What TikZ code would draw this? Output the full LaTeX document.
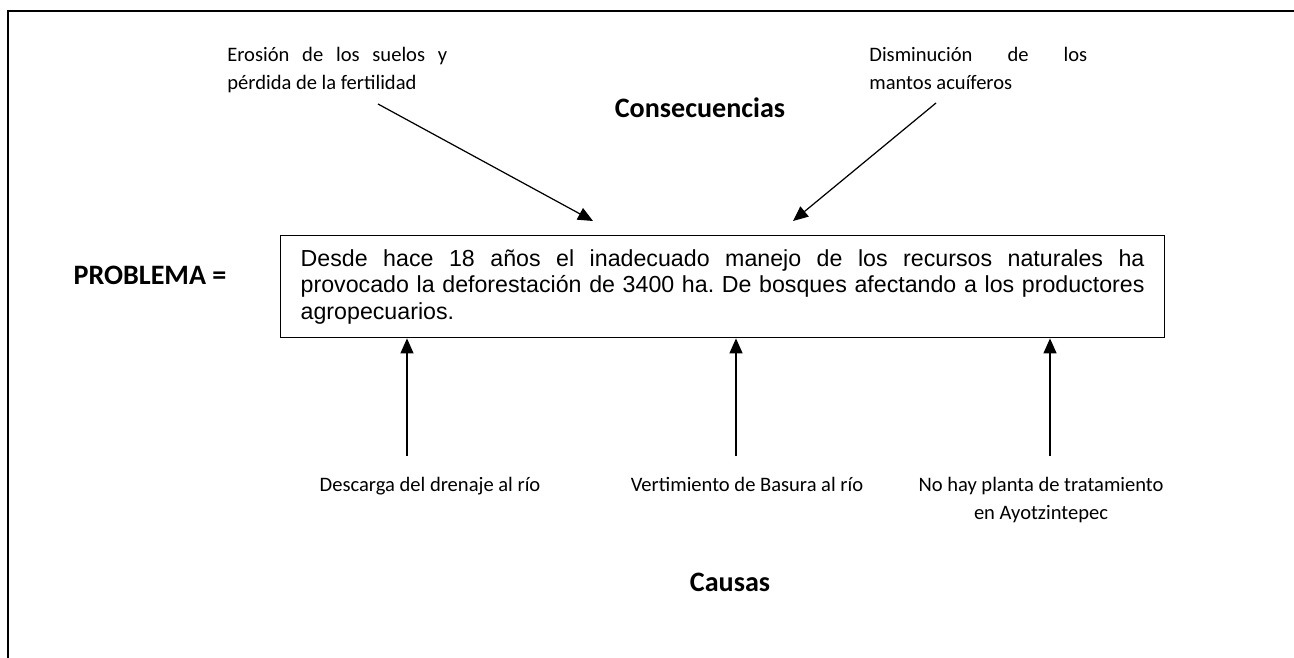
\documentclass[tikz,border=0pt]{standalone}
\usepackage{fontspec}
\setmainfont{Carlito}
\newfontfamily\arialfont{Liberation Sans}
\usetikzlibrary{arrows.meta}
\tikzstyle{nota} = [font=\fontsize{11.7}{15.9}\selectfont, inner sep=0pt]
\tikzstyle{titulo} = [font=\fontsize{16}{19}\selectfont\bfseries, inner sep=0pt]
\tikzstyle{caja} = [rectangle, draw=black, line width=0.8pt, text width=16.88cm, minimum height=2.04cm, inner xsep=0.4cm, inner ysep=0pt, align=justify, font=\arialfont\fontsize{13.2}{15}\selectfont\frenchspacing]
\tikzstyle{flecha} = [-{Triangle[length=0.3cm,width=0.26cm]}, line width=0.7pt]

\begin{document}
\begin{tikzpicture}[x=0.02cm, y=-0.02cm]
    \useasboundingbox (0,0) rectangle (1294,658);

    % marco
    \draw[line width=1.1pt] (8,658) -- (8,11) -- (1294,11);

    \node(problema)[caja, anchor=north west] at (280,235) {Desde hace 18 años el inadecuado manejo de los recursos naturales ha\linebreak provocado la deforestación de 3400 ha. De bosques afectando a los productores\linebreak agropecuarios.};
    \node(etiqueta)[titulo] at (150,275) {PROBLEMA =};

    % consecuencias
    \node(erosion)[nota, anchor=north west, text width=4.4cm, align=justify] at (227,47) {Erosión de los suelos y\linebreak pérdida de la fertilidad};
    \node(disminucion)[nota, anchor=north west, text width=4.36cm, align=justify] at (869,47) {Disminución de los\linebreak mantos acuíferos};
    \node(consecuencias)[titulo] at (700,108) {Consecuencias};

    \coordinate (e1) at (378,104);
    \coordinate (e2) at (593,221);
    \draw[flecha] (e1) -- (e2);
    \coordinate (d1) at (936,103);
    \coordinate (d2) at (793,221);
    \draw[flecha] (d1) -- (d2);

    % causas
    \node(descarga)[nota, anchor=north] at (430,477) {Descarga del drenaje al río};
    \node(basura)[nota, anchor=north] at (747,477) {Vertimiento de Basura al río};
    \node(planta)[nota, anchor=north, align=center] at (1041,477) {No hay planta de tratamiento\\ en Ayotzintepec};
    \node(causas)[titulo] at (730,582) {Causas};

    \coordinate (c1) at (407,456);
    \coordinate (c2) at (736,456);
    \coordinate (c3) at (1050,456);
    \draw[flecha] (c1) -- (c1 |- problema.south);
    \draw[flecha] (c2) -- (c2 |- problema.south);
    \draw[flecha] (c3) -- (c3 |- problema.south);

\end{tikzpicture}
\end{document}
